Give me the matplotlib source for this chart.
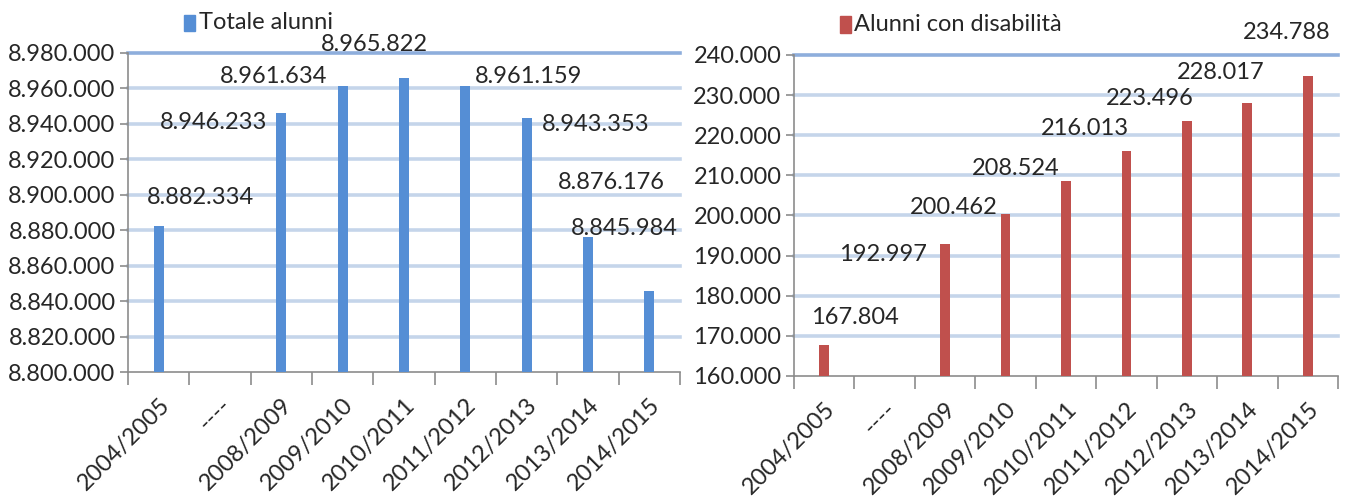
import numpy as np
import matplotlib
matplotlib.use("Agg")
import matplotlib.pyplot as plt
from matplotlib.ticker import FuncFormatter, FixedLocator
from matplotlib.patches import Rectangle

plt.rcParams['font.family'] = ['Lato', 'DejaVu Sans']

years = ["2004/2005", "----", "2008/2009", "2009/2010", "2010/2011",
         "2011/2012", "2012/2013", "2013/2014", "2014/2015"]
totale = [8882334, None, 8946233, 8961634, 8965822, 8961159, 8943353, 8876176, 8845984]
disab = [167804, None, 192997, 200462, 208524, 216013, 223496, 228017, 234788]

# label offsets from bar top, in pixels (dx, dy)
off_tot = [(42, 29), None, (-68, -10), (-69, 9), (-30, 34), (63, 10), (69, -7), (23, 54), (-25, 62)]
off_dis = [(31, 27), None, (-62, -11), (-52, 6), (-50, 13), (-41, 23), (-37, 23), (-27, 31), (-21, 43)]

BLUE = "#558ED5"
RED = "#C0504D"
GRID = "#C5D5EA"
TOPGRID = "#8EAEDC"
AXIS = "#8C8C8C"
TXT = "#262626"
FS = 17

def fmt(v, pos=None):
    return f"{v:,.0f}".replace(",", ".")

def draw(ax, vals, offs, color, ymin, ymax, step, label, legx):
    ax.set_xlim(-0.5, len(years) - 0.5)
    ax.set_ylim(ymin, ymax)
    ticks = np.arange(ymin, ymax + step / 2, step)
    ax.yaxis.set_major_locator(FixedLocator(ticks))
    ax.yaxis.set_major_formatter(FuncFormatter(fmt))
    for t in ticks[1:]:
        c = TOPGRID if t == ticks[-1] else GRID
        ax.axhline(t, color=c, lw=2.6, zorder=1, clip_on=False)
    xs = [i for i, v in enumerate(vals) if v is not None]
    hs = [v for v in vals if v is not None]
    ax.bar(xs, [h - ymin for h in hs], bottom=ymin, width=0.16, color=color, zorder=3)
    for i, v in enumerate(vals):
        if v is None:
            continue
        dx, dy = offs[i]
        ax.annotate(fmt(v), (i, v), xytext=(dx * 0.72, dy * 0.72), textcoords="offset points",
                    ha="center", va="center", fontsize=FS, color=TXT, zorder=5,
                    annotation_clip=False)
    for s in ["top", "right"]:
        ax.spines[s].set_visible(False)
    for s in ["left", "bottom"]:
        ax.spines[s].set_color(AXIS)
        ax.spines[s].set_linewidth(1.2)
    ax.set_xticks(range(len(years)))
    ax.set_xticklabels(years, rotation=45, ha="right", rotation_mode="anchor", fontsize=FS,
                       color=TXT)
    ax.tick_params(axis="x", length=0, pad=16)
    ax.set_xticks(np.arange(-0.5, len(years)), minor=True)
    ax.tick_params(axis="x", which="minor", length=9, color=AXIS, width=1.2)
    ax.tick_params(axis="y", length=6, color=AXIS, width=1.2, labelsize=FS, labelcolor=TXT, pad=3)
    ax.patch.set_alpha(0)
    ax.add_patch(Rectangle((legx, 1.07), 0.02, 0.05, transform=ax.transAxes,
                           color=color, clip_on=False))
    ax.text(legx + 0.026, 1.095, label, transform=ax.transAxes, fontsize=FS, va="center",
            ha="left", color=TXT)

fig = plt.figure(figsize=(13.45, 4.99), dpi=100)
ax1 = fig.add_axes([0.0952, 0.2545, 0.4104, 0.6393])
ax2 = fig.add_axes([0.5903, 0.2465, 0.4045, 0.6433])

draw(ax1, totale, off_tot, BLUE, 8800000, 8980000, 20000, "Totale alunni", 0.102)
draw(ax2, disab, off_dis, RED, 160000, 240000, 10000, "Alunni con disabilità", 0.085)

fig.savefig("out.png", dpi=100)
